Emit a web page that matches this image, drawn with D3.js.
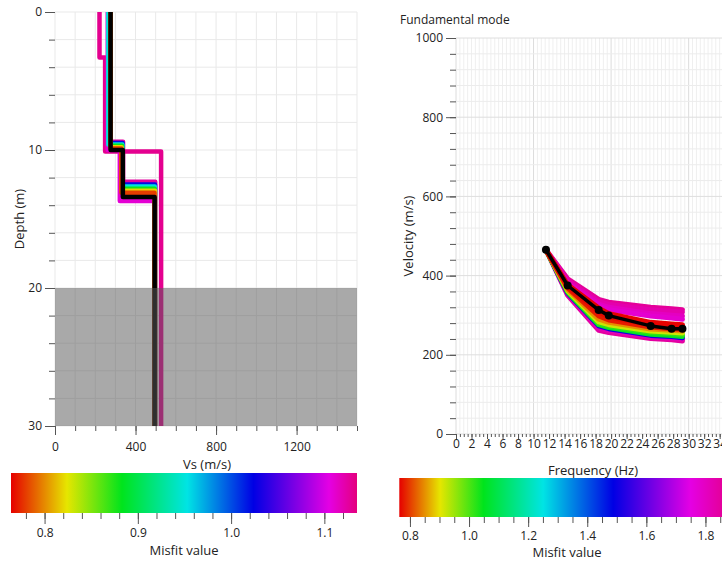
<!DOCTYPE html>
<html><head><meta charset="utf-8">
<script src="https://cdn.jsdelivr.net/npm/d3@7"></script>
<style>body{margin:0;background:#fff}svg{display:block;font-family:"Open Sans",sans-serif}</style>
</head><body><svg id="c" width="722" height="561"></svg>
<script>
// ---------- data ----------
const vsTicks = [0, 400, 800, 1200];
const vsMinorTicks = [0,100,200,300,400,500,600,700,800,900,1000,1100,1200,1300,1400,1500];
const depthTicks = [0, 10, 20, 30];
const depthMinorTicks = [0,2,4,6,8,10,12,14,16,18,20,22,24,26,28,30];
const freqTicks = [0,2,4,6,8,10,12,14,16,18,20,22,24,26,28,30,32,34];
const velTicks = [0, 200, 400, 600, 800, 1000];
const velMinorTicks = [0,40,80,120,160,200,240,280,320,360,400,440,480,520,560,600,640,680,720,760,800,840,880,920,960,1000];
const misfitTicksL = [0.8, 0.9, 1.0, 1.1];
const misfitTicksR = [0.8, 1.0, 1.2, 1.4, 1.6, 1.8];
const paletteColors = ['#e60000','#e6e600','#00e41c','#00e4e4','#0000e4','#e400e4','#e4007e'];
const paletteStopsL = [0.764, 0.824, 0.883, 0.953, 1.024, 1.105, 1.135];
const paletteStopsR = [0.764, 0.902, 1.049, 1.251, 1.488, 1.749, 1.90];
const halfspaceBottom = 30;
const notResolvedTop = 20;

// ground profiles: misfit, layer tops (m), Vs (m/s)
const profileMisfit = [1.13, 1.125, 1.11, 1.02, 0.95, 0.88, 0.82, 0.78];
const profileTops = [
  [0, 3.3, 10.1],
  [0, 9.4, 12.3],
  [0, 10.0, 13.7],
  [0, 9.5, 12.5],
  [0, 9.6, 12.65],
  [0, 9.7, 12.8],
  [0, 9.8, 12.95],
  [0, 9.9, 13.1]
];
const profileVs = [
  [221, 249, 527],
  [272, 338, 498],
  [262, 322, 494],
  [274, 336, 497],
  [265, 335, 496],
  [276, 333, 495],
  [277, 331, 497],
  [276, 330, 494]
];
const refTops = [0, 10.0, 13.4];
const refVs = [276, 337, 495];

// dispersion curves
const dispFreq = [11.6, 14.4, 18.4, 19.7, 25.1, 27.8, 29.2];
const dataVel = [465, 375, 313, 299, 273, 266, 266];
const curveMisfit = [1.86, 1.83, 1.80, 1.78, 1.85, 1.82, 1.50, 1.06, 1.02, 0.92, 0.85, 0.78, 0.77, 0.765];
const curveVel = [
  [465, 392, 340, 333, 320, 316, 314],
  [465, 387, 334, 327, 314, 310, 308],
  [464, 382, 328, 320, 304, 300, 298],
  [464, 378, 323, 314, 298, 293, 290],
  [466, 350, 262, 256, 241, 238, 235],
  [466, 353, 267, 261, 246, 242, 240],
  [465, 356, 273, 266, 249, 246, 243],
  [465, 358, 276, 269, 252, 249, 246],
  [465, 360, 279, 272, 256, 253, 250],
  [465, 362, 283, 276, 260, 257, 255],
  [465, 365, 290, 282, 265, 262, 260],
  [465, 369, 298, 288, 270, 266, 264],
  [465, 373, 308, 296, 276, 272, 270],
  [465, 377, 318, 304, 282, 278, 276]
];

// ---------- drawing ----------
const svg = d3.select('#c');
const txt = '#222';
const gridC = '#e9e9e9';
const tickC = '#555';
const intFmt = d3.format('d');

function styleAxis(g, fs) {
  g.select('.domain').remove();
  g.selectAll('.tick line').attr('stroke', tickC);
  g.selectAll('.tick text').attr('fill', txt).style('font-size', fs + 'px').style('font-family', '"Open Sans",sans-serif');
}

// ===== Left: Vs profile =====
const xL = d3.scaleLinear().domain([0, 1500]).range([55, 357]);
const yL = d3.scaleLinear().domain([0, 30]).range([12, 426]);
const gL = svg.append('g');
gL.selectAll('line.vg').data(vsMinorTicks).join('line')
  .attr('x1', d => xL(d)).attr('x2', d => xL(d)).attr('y1', yL(0)).attr('y2', yL(30))
  .attr('stroke', gridC).attr('stroke-width', 1);
gL.selectAll('line.hg').data(depthMinorTicks).join('line')
  .attr('x1', xL(0)).attr('x2', xL(1500)).attr('y1', d => yL(d)).attr('y2', d => yL(d))
  .attr('stroke', gridC).attr('stroke-width', 1);

const colorL = d3.scaleLinear().domain(paletteStopsL).range(paletteColors).clamp(true);
const colorR = d3.scaleLinear().domain(paletteStopsR).range(paletteColors).clamp(true);

function profilePts(tops, vs) {
  const pts = [];
  for (let i = 0; i < tops.length; i++) {
    const bot = i + 1 < tops.length ? tops[i + 1] : halfspaceBottom;
    pts.push([vs[i], tops[i]]);
    pts.push([vs[i], bot]);
  }
  return pts;
}
const lineL = d3.line().x(d => xL(d[0])).y(d => yL(d[1]));
const profIdx = d3.range(profileMisfit.length).sort((a, b) => profileMisfit[b] - profileMisfit[a]);
profIdx.forEach(i => {
  gL.append('path').attr('d', lineL(profilePts(profileTops[i], profileVs[i])))
    .attr('fill', 'none').attr('stroke', colorL(profileMisfit[i]))
    .attr('stroke-width', 4.5).attr('stroke-linejoin', 'round');
});
gL.append('path').attr('d', lineL(profilePts(refTops, refVs)))
  .attr('fill', 'none').attr('stroke', '#000').attr('stroke-width', 4.5).attr('stroke-linejoin', 'round');

gL.append('rect').attr('x', xL(0)).attr('y', yL(notResolvedTop))
  .attr('width', xL(1500) - xL(0)).attr('height', yL(halfspaceBottom) - yL(notResolvedTop))
  .attr('fill', '#5b5b5b').attr('opacity', 0.52);

styleAxis(gL.append('g').attr('transform', `translate(${xL(0)},0)`)
  .call(d3.axisLeft(yL).tickValues(depthMinorTicks).tickSize(6).tickFormat('')), 12);
styleAxis(gL.append('g').attr('transform', `translate(${xL(0)},0)`)
  .call(d3.axisLeft(yL).tickValues(depthTicks).tickSize(10).tickPadding(3).tickFormat(intFmt)), 12);
styleAxis(gL.append('g').attr('transform', `translate(0,${yL(30)})`)
  .call(d3.axisBottom(xL).tickValues(vsMinorTicks).tickSize(5).tickFormat('')), 12);
styleAxis(gL.append('g').attr('transform', `translate(0,${yL(30)})`)
  .call(d3.axisBottom(xL).tickValues(vsTicks).tickSize(9).tickPadding(7).tickFormat(intFmt)), 12);

svg.append('text').attr('transform', 'translate(24,219) rotate(-90)').attr('text-anchor', 'middle')
  .attr('fill', txt).style('font-size', '13px').text('Depth (m)');
svg.append('text').attr('x', 207).attr('y', 469).attr('text-anchor', 'middle')
  .attr('fill', txt).style('font-size', '13px').text('Vs (m/s)');

// ===== Right: dispersion =====
const xR = d3.scaleLinear().domain([0, 34.3]).range([456, 722]);
const yR = d3.scaleLinear().domain([0, 1000]).range([434, 38]);
const gR = svg.append('g');
const freqGrid = d3.range(0, 34.5, 0.5);
gR.selectAll('line.vg').data(freqGrid).join('line')
  .attr('x1', d => xR(d)).attr('x2', d => xR(d)).attr('y1', yR(0)).attr('y2', yR(1000))
  .attr('stroke', d => d % 10 === 0 ? '#dcdcdc' : '#efefef').attr('stroke-width', 1);
gR.selectAll('line.hg').data(velMinorTicks).join('line')
  .attr('x1', xR(0)).attr('x2', 722).attr('y1', d => yR(d)).attr('y2', d => yR(d))
  .attr('stroke', d => d % 200 === 0 ? '#dedede' : '#ececec').attr('stroke-width', 1);

const lineR = d3.line().x((d, i) => xR(dispFreq[i])).y(d => yR(d));
const curveIdx = d3.range(curveMisfit.length).sort((a, b) => curveMisfit[b] - curveMisfit[a]);
curveIdx.forEach(i => {
  gR.append('path').attr('d', lineR(curveVel[i])).attr('fill', 'none')
    .attr('stroke', colorR(curveMisfit[i])).attr('stroke-width', 5)
    .attr('stroke-linejoin', 'round').attr('stroke-linecap', 'round');
});
gR.append('path').attr('d', lineR(dataVel)).attr('fill', 'none')
  .attr('stroke', '#000').attr('stroke-width', 3.5).attr('stroke-linejoin', 'round');
gR.selectAll('circle.pt').data(dataVel).join('circle')
  .attr('cx', (d, i) => xR(dispFreq[i])).attr('cy', d => yR(d)).attr('r', 4).attr('fill', '#000');

styleAxis(gR.append('g').attr('transform', `translate(${xR(0)},0)`)
  .call(d3.axisLeft(yR).tickValues(velMinorTicks).tickSize(6).tickFormat('')), 12);
styleAxis(gR.append('g').attr('transform', `translate(${xR(0)},0)`)
  .call(d3.axisLeft(yR).tickValues(velTicks).tickSize(10).tickPadding(3).tickFormat(intFmt)), 12);
styleAxis(gR.append('g').attr('transform', `translate(0,${yR(0)})`)
  .call(d3.axisBottom(xR).tickValues(freqGrid).tickSize(3).tickFormat('')), 12);
styleAxis(gR.append('g').attr('transform', `translate(0,${yR(0)})`)
  .call(d3.axisBottom(xR).tickValues(freqTicks).tickSize(5).tickPadding(0).tickFormat(intFmt)), 12);

svg.append('text').attr('x', 400).attr('y', 24).attr('fill', txt).style('font-size', '12px').text('Fundamental mode');
svg.append('text').attr('transform', 'translate(413,236) rotate(-90)').attr('text-anchor', 'middle')
  .attr('fill', txt).style('font-size', '13px').text('Velocity (m/s)');
svg.append('text').attr('x', 593).attr('y', 475).attr('text-anchor', 'middle')
  .attr('fill', txt).style('font-size', '13px').text('Frequency (Hz)');

// ===== Colorbars =====
function colorbar(id, scaleColor, x0, x1, y0, y1, dom, majors, minorStep, tickSz, pad, title, titleX, titleY) {
  const xs = d3.scaleLinear().domain(dom).range([x0, x1]);
  const defs = svg.append('defs');
  const grad = defs.append('linearGradient').attr('id', id).attr('x1', '0%').attr('x2', '100%');
  scaleColor.domain().forEach(v => {
    grad.append('stop').attr('offset', ((v - dom[0]) / (dom[1] - dom[0]) * 100) + '%').attr('stop-color', scaleColor(v));
  });
  svg.append('rect').attr('x', x0).attr('y', y0).attr('width', x1 - x0).attr('height', y1 - y0)
    .attr('fill', `url(#${id})`);
  const minors = d3.range(Math.ceil(dom[0] / minorStep) * minorStep, dom[1], minorStep);
  styleAxis(svg.append('g').attr('transform', `translate(0,${y1})`)
    .call(d3.axisBottom(xs).tickValues(minors).tickSize(6).tickFormat('')), 12);
  styleAxis(svg.append('g').attr('transform', `translate(0,${y1})`)
    .call(d3.axisBottom(xs).tickValues(majors).tickSize(tickSz).tickPadding(pad).tickFormat(d3.format('.1f'))), 12);
  svg.append('text').attr('x', titleX).attr('y', titleY).attr('text-anchor', 'middle')
    .attr('fill', txt).style('font-size', '13px').text(title);
}
colorbar('gl', colorL, 11, 357, 473, 513, [0.764, 1.135], misfitTicksL, 0.02, 11, 4.5, 'Misfit value', 184, 555);
colorbar('gr', colorR, 399.3, 735, 478, 517, [0.764, 1.90], misfitTicksR, 0.05, 10, 4, 'Misfit value', 567, 557);
</script></body></html>
